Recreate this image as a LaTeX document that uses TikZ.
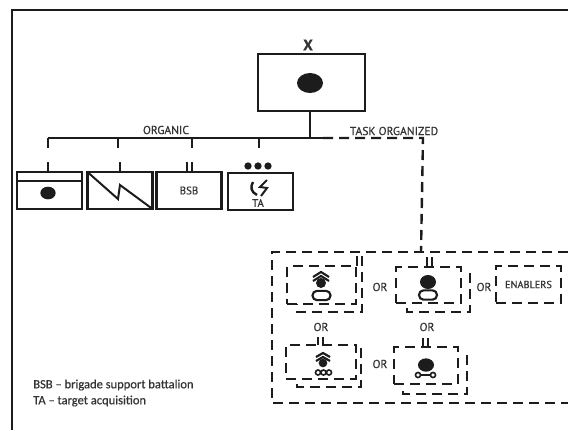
\documentclass[tikz,border=0pt]{standalone}
\usepackage{fontspec}
\setmainfont{PT Sans}[FakeBold=0.5]
\newfontfamily\notefont{Carlito}[FakeBold=0.5]
\usepackage{xcolor}
\usetikzlibrary{shapes,positioning}

\definecolor{inkline}{HTML}{1C1C1C}
\definecolor{inktext}{HTML}{333333}

\begin{document}
\begin{tikzpicture}[
    x=0.75pt, y=-0.75pt,
    link/.style={draw=inkline, line width=1.8pt},
    tick/.style={draw=inkline, line width=1.5pt},
    dashlink/.style={link, dash pattern=on 7.5pt off 4.5pt},
    unit/.style={rectangle, draw=inkline, line width=1.8pt, inner sep=0pt, outer sep=0pt, minimum width=48.5pt, minimum height=27.5pt, font=\fontsize{8.2}{9}\selectfont, text=inktext},
    taskbox/.style={unit, dash pattern=on 7.5pt off 4.5pt},
    label/.style={inner sep=0pt, text=inktext, font=\fontsize{8.7}{10}\selectfont},
    blob/.style={ellipse, fill=inkline, inner sep=0pt, outer sep=0pt},
    wheelbar/.style={rectangle, rounded corners=3.4pt, draw=inkline, line width=1.6pt, inner sep=0pt, minimum width=13.5pt, minimum height=7pt},
    roller/.style={circle, draw=inkline, line width=1.2pt, inner sep=0pt, minimum size=3.8pt},
    chevron/.style={draw=inkline, line width=1.6pt}
]
    \useasboundingbox (0,0) rectangle (568,430);

    % frame
    \draw[link] (12,430) -- (12,10) -- (568,10);

    % parent unit
    \node[unit, minimum width=80.5pt, minimum height=42.5pt] (hq) at (311.5,82.5) {};
    \node[blob, minimum width=19.5pt, minimum height=15pt] (hqdot) at (310,83) {};
    \node[label, font=\fontsize{11.5}{12}\selectfont\bfseries] (echelon) at (308,45) {X};

    % organic units
    \node[unit] (cav) at (49.5,190.5) {};
    \node[blob, minimum width=11.5pt, minimum height=9.5pt] (cavdot) at (48,193) {};
    \node[unit] (fires) at (120,190.5) {};
    \node[unit] (bsb) at (189,190.5) {BSB};
    \node[unit] (ta) at (260.5,191.5) {};
    \node[label, font=\fontsize{8.2}{9}\selectfont] (talabel) at (258,203) {TA};
    \foreach \n/\x in {a/248,b/258,c/268}
        \node[circle, fill=inkline, inner sep=0pt, minimum size=5.5pt] (tadot\n) at (\x,166) {};

    \draw[link] (cav.west |- 0,181) -- (cav.east |- 0,181);
    \draw[link, line width=1.5pt] (fires.north west) -- (118,199) -- (120,185) -- (fires.south east);
    \draw[link] (253,182) .. controls (250,187) and (251,192) .. (257,195);
    \draw[link, line width=1.5pt] (267,180) -- (260,187) -- (267,188) -- (261,196);

    % organic line
    \coordinate (orgend) at (48,138);
    \coordinate (junction) at (310,138);
    \coordinate (taskbend) at (323,138);
    \coordinate (taskcorner) at (423,138);
    \coordinate (taskdrop) at (421,252);
    \draw[link] (hq.south -| junction) -- (junction);
    \draw[link] (orgend) -- (taskbend);
    \draw[dashlink] (taskbend) -- (taskcorner) -- (taskdrop);
    \foreach \n/\x in {a/48,b/118,c/192,d/259}
        \draw[link] (\x,138) -- (\x,148);
    \draw[link] (48,162) -- (48,172);
    \draw[link] (120,162) -- (120,172);
    \draw[tick] (186.5,162) -- (186.5,172);
    \draw[tick] (191.5,162) -- (191.5,172);

    \node[label] (organic) at (166,130) {ORGANIC};
    \node[label] (taskorg) at (394,131) {TASK ORGANIZED};

    % task organized group
    \coordinate (grouptr) at (568,252);
    \coordinate (grouptl) at (272,252);
    \coordinate (groupbl) at (272,403);
    \coordinate (groupbr) at (568,403);
    \draw[dashlink] (grouptr) -- (grouptl) -- (groupbl) -- (groupbr);

    % upper left
    \node[taskbox, minimum width=51.5pt, minimum height=28.5pt] (armor) at (321.5,285) {};
    \draw[dashlink] (362,256) -- (362,312) -- (297,312) -- (297,304);
    \draw[link] (357,256) -- (357,266);
    \draw[chevron] (313,277) -- (321,272) -- (329,277);
    \draw[chevron] (313,281) -- (321,276) -- (329,281);
    \node[blob, minimum size=7.5pt] (armordot) at (321,283) {};
    \node[wheelbar] (armortrack) at (321.5,295.5) {};

    % upper middle
    \node[taskbox, minimum width=48.5pt, minimum height=27pt] (infantry) at (428.5,285) {};
    \draw[dashlink] (470,273) -- (470,312) -- (407,312) -- (407,303);
    \draw[tick] (426.5,257) -- (426.5,266);
    \draw[tick] (432,257) -- (432,266);
    \node[blob, minimum width=12pt, minimum height=10.5pt] (infantrydot) at (428,282) {};
    \node[wheelbar] (infantrytrack) at (428,295) {};

    % enablers
    \node[taskbox, minimum width=48.5pt, minimum height=27.5pt, font=\fontsize{7.7}{9}\selectfont] (enablers) at (528.5,284.5) {ENABLERS};

    % lower left
    \node[taskbox, minimum width=52.5pt, minimum height=25.5pt] (mech) at (321,362) {};
    \draw[dashlink] (361,348) -- (361,387) -- (297,387) -- (297,379);
    \draw[tick] (317.5,337) -- (317.5,345);
    \draw[tick] (323,337) -- (323,345);
    \draw[chevron] (316,357) -- (323,353) -- (330,357);
    \draw[chevron] (316,361) -- (323,357) -- (330,361);
    \node[blob, minimum size=6.5pt] (mechdot) at (323,363) {};
    \foreach \n/\x in {a/318,b/323.5,c/329}
        \node[roller] (mechwheel\n) at (\x,372.5) {};

    % lower middle
    \node[taskbox, minimum width=48pt, minimum height=27.5pt] (motor) at (426,365.5) {};
    \draw[dashlink] (467,355) -- (467,394) -- (403,394) -- (403,384);
    \draw[tick] (422.5,338) -- (422.5,347);
    \draw[tick] (428,338) -- (428,347);
    \node[blob, minimum width=12pt, minimum height=10pt] (motordot) at (426,365) {};
    \node[roller] (motorleft) at (418,375) {};
    \node[roller] (motorright) at (433,375) {};
    \draw[link, line width=1.2pt] (motorleft) -- (motorright);

    % alternatives
    \node[label] (orab) at (380,287) {OR};
    \node[label] (orbe) at (484,287) {OR};
    \node[label] (orac) at (321,327) {OR};
    \node[label] (orbd) at (427,327) {OR};
    \node[label] (orcd) at (380,364) {OR};

    % key
    \node[label, anchor=west, font=\notefont\fontsize{9.4}{10}\selectfont] (keybsb) at (33,385) {BSB – brigade support battalion};
    \node[label, anchor=west, font=\notefont\fontsize{9.4}{10}\selectfont] (keyta) at (33,401) {TA – target acquisition};
\end{tikzpicture}
\end{document}
